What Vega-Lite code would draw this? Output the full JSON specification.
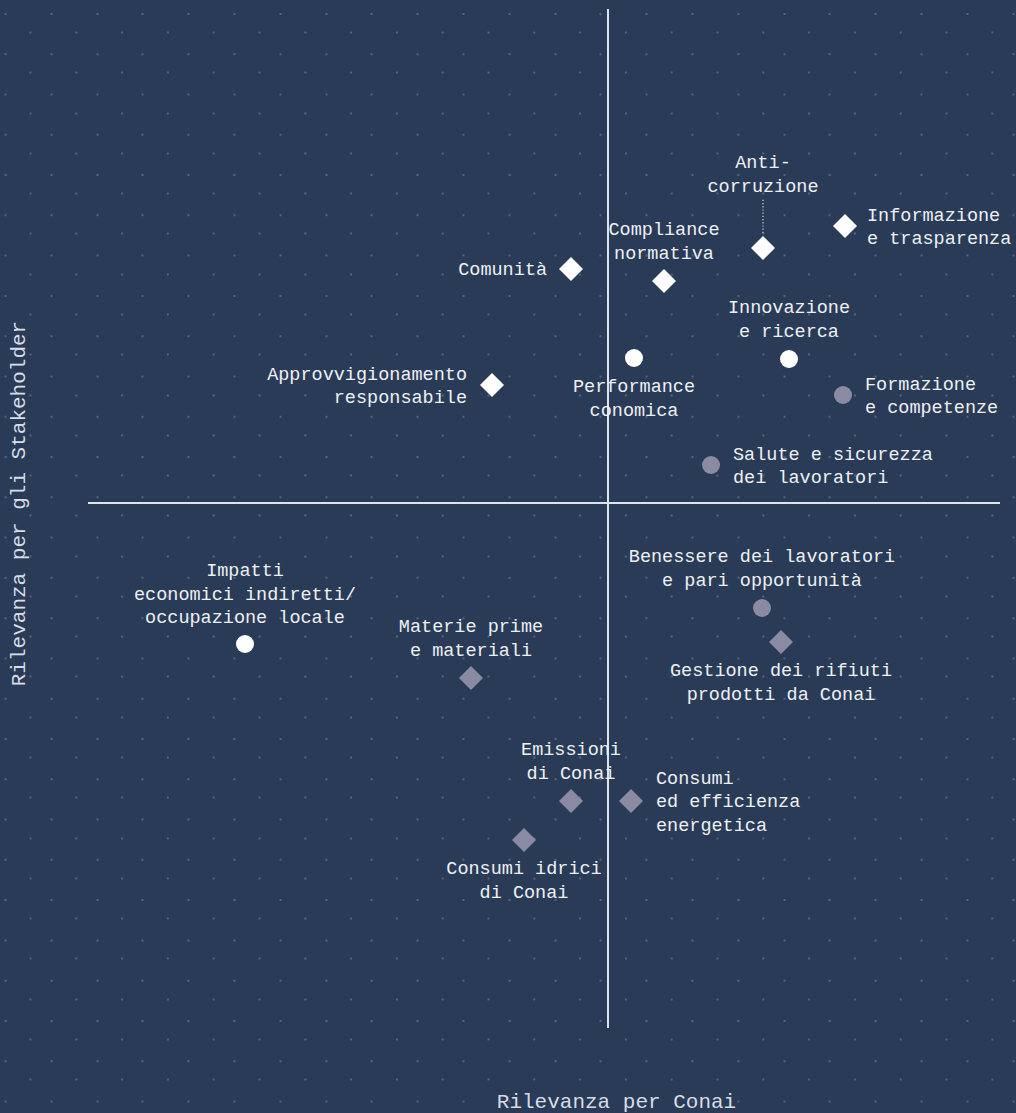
{
  "$schema": "https://vega.github.io/schema/vega-lite/v6.json",
  "width": 1016,
  "height": 1113,
  "autosize": {"type": "none"},
  "padding": 0,
  "background": "#2a3b58",
  "config": {
    "view": {"stroke": null},
    "text": {"font": "Liberation Mono", "fontSize": 18.5, "color": "#eef0f3", "lineHeight": 23.5, "baseline": "middle"}
  },
  "data": {
    "values": [
      {"label": ["Comunità"], "x": -0.37, "y": 2.34, "kind": "diamond", "tone": "chiaro", "side": "left"},
      {"label": ["Compliance", "normativa"], "x": 0.56, "y": 2.22, "kind": "diamond", "tone": "chiaro", "side": "above"},
      {"label": ["Anti-", "corruzione"], "x": 1.55, "y": 2.55, "kind": "diamond", "tone": "chiaro", "side": "leader"},
      {"label": ["Informazione", "e trasparenza"], "x": 2.37, "y": 2.77, "kind": "diamond", "tone": "chiaro", "side": "right"},
      {"label": ["Approvvigionamento", "responsabile"], "x": -1.16, "y": 1.18, "kind": "diamond", "tone": "chiaro", "side": "left"},
      {"label": ["Performance", "conomica"], "x": 0.26, "y": 1.45, "kind": "circle", "tone": "chiaro", "side": "below"},
      {"label": ["Innovazione", "e ricerca"], "x": 1.81, "y": 1.44, "kind": "circle", "tone": "chiaro", "side": "above"},
      {"label": ["Impatti", "economici indiretti/", "occupazione locale"], "x": -3.63, "y": -1.41, "kind": "circle", "tone": "chiaro", "side": "above"},
      {"label": ["Formazione", "e competenze"], "x": 2.35, "y": 1.08, "kind": "circle", "tone": "grigio", "side": "right"},
      {"label": ["Salute e sicurezza", "dei lavoratori"], "x": 1.03, "y": 0.38, "kind": "circle", "tone": "grigio", "side": "right"},
      {"label": ["Benessere dei lavoratori", "e pari opportunità"], "x": 1.54, "y": -1.05, "kind": "circle", "tone": "grigio", "side": "above"},
      {"label": ["Gestione dei rifiuti", "prodotti da Conai"], "x": 1.73, "y": -1.39, "kind": "diamond", "tone": "grigio", "side": "below"},
      {"label": ["Materie prime", "e materiali"], "x": -1.37, "y": -1.75, "kind": "diamond", "tone": "grigio", "side": "above"},
      {"label": ["Emissioni", "di Conai"], "x": -0.37, "y": -2.98, "kind": "diamond", "tone": "grigio", "side": "above"},
      {"label": ["Consumi", "ed efficienza", "energetica"], "x": 0.23, "y": -2.98, "kind": "diamond", "tone": "grigio", "side": "right"},
      {"label": ["Consumi idrici", "di Conai"], "x": -0.84, "y": -3.37, "kind": "diamond", "tone": "grigio", "side": "below"}
    ]
  },
  "resolve": {"scale": {"x": "independent"}, "axis": {"x": "independent"}},
  "layer": [
    {
      "mark": {"type": "rule", "color": "#dfe3ea", "strokeWidth": 1.5},
      "encoding": {
        "x": {"datum": -5.20, "type": "quantitative", "scale": {"domain": [-6.08, 4.08], "nice": false, "zero": false},
          "axis": {"orient": "top", "title": null, "labels": false, "ticks": false, "domain": false, "grid": true,
            "values": [-6.030, -5.572, -5.114, -4.656, -4.198, -3.740, -3.282, -2.824, -2.366, -1.908, -1.450, -0.992, -0.534, -0.076, 0.382, 0.840, 1.298, 1.756, 2.214, 2.672, 3.130, 3.588, 4.046],
            "gridColor": "#6a7391", "gridOpacity": 0.7, "gridWidth": 2, "gridDash": [2, 38.28], "gridDashOffset": 29.28}},
        "x2": {"datum": 3.92},
        "y": {"datum": 0, "type": "quantitative", "scale": {"domain": [-6.10, 5.03], "nice": false, "zero": false}}
      }
    },
    {
      "mark": {"type": "rule", "color": "#dfe3ea", "strokeWidth": 1.5},
      "encoding": {
        "x": {"datum": 0, "type": "quantitative", "scale": {"domain": [-6.08, 4.08], "nice": false, "zero": false}, "axis": null},
        "y": {"datum": 4.94, "type": "quantitative", "scale": {"domain": [-6.10, 5.03], "nice": false, "zero": false}},
        "y2": {"datum": -5.25}
      }
    },
    {
      "transform": [{"filter": "datum.side === 'leader'"}],
      "mark": {"type": "rule", "color": "#d0d4dc", "strokeWidth": 1.2, "strokeDash": [1.2, 2], "yOffset": -15, "y2Offset": -50},
      "encoding": {
        "x": {"field": "x", "type": "quantitative", "scale": {"domain": [-6.08, 4.08], "nice": false, "zero": false}, "axis": null},
        "y": {"field": "y", "type": "quantitative", "scale": {"domain": [-6.10, 5.03], "nice": false, "zero": false}},
        "y2": {"field": "y"}
      }
    },
    {
      "mark": {"type": "point", "filled": true, "opacity": 1, "strokeWidth": 0},
      "encoding": {
        "x": {"field": "x", "type": "quantitative", "scale": {"domain": [-6.08, 4.08], "nice": false, "zero": false},
          "axis": {"orient": "bottom", "title": "Rilevanza per Conai", "labels": false, "ticks": false, "domain": false, "grid": false,
            "titleX": 616, "titleY": -12, "titleAlign": "center", "titleBaseline": "middle",
            "titleFont": "Liberation Mono", "titleFontSize": 21, "titleFontWeight": "normal", "titleColor": "#d8dce4"}},
        "y": {"field": "y", "type": "quantitative", "scale": {"domain": [-6.10, 5.03], "nice": false, "zero": false},
          "axis": {"orient": "left", "title": "Rilevanza per gli Stakeholder", "labels": false, "ticks": false, "domain": false, "grid": true,
            "values": [4.710, 4.3072, 3.9044, 3.5016, 3.0988, 2.696, 2.2932, 1.8904, 1.4876, 1.0848, 0.682, 0.2792, -0.1236, -0.5264, -0.9292, -1.332, -1.7348, -2.1376, -2.5404, -2.9432, -3.346, -3.7488, -4.1516, -4.5544, -4.9572, -5.36, -5.7628],
            "gridColor": "#6a7391", "gridOpacity": 0.7, "gridWidth": 2, "gridDash": [2, 43.8], "gridDashOffset": 16.8,
            "titleX": 18, "titleY": 503, "titleAngle": 270, "titleAlign": "center", "titleBaseline": "middle",
            "titleFont": "Liberation Mono", "titleFontSize": 21, "titleFontWeight": "normal", "titleColor": "#d8dce4"}},
        "shape": {"field": "kind", "type": "nominal", "scale": {"domain": ["diamond", "circle"], "range": ["diamond", "circle"]}, "legend": null},
        "size": {"field": "kind", "type": "nominal", "scale": {"domain": ["diamond", "circle"], "range": [576, 324]}, "legend": null},
        "color": {"field": "tone", "type": "nominal", "scale": {"domain": ["chiaro", "grigio"], "range": ["#ffffff", "#8a8ba3"]}, "legend": null}
      }
    },
    {
      "transform": [{"filter": "datum.side === 'above' && length(datum.label) === 2"}],
      "mark": {"type": "text", "align": "center", "dy": -52},
      "encoding": {
        "x": {"field": "x", "type": "quantitative", "scale": {"domain": [-6.08, 4.08], "nice": false, "zero": false}, "axis": null},
        "y": {"field": "y", "type": "quantitative", "scale": {"domain": [-6.10, 5.03], "nice": false, "zero": false}},
        "text": {"field": "label"}
      }
    },
    {
      "transform": [{"filter": "datum.side === 'above' && length(datum.label) === 3"}],
      "mark": {"type": "text", "align": "center", "dy": -74},
      "encoding": {
        "x": {"field": "x", "type": "quantitative", "scale": {"domain": [-6.08, 4.08], "nice": false, "zero": false}, "axis": null},
        "y": {"field": "y", "type": "quantitative", "scale": {"domain": [-6.10, 5.03], "nice": false, "zero": false}},
        "text": {"field": "label"}
      }
    },
    {
      "transform": [{"filter": "datum.side === 'leader'"}],
      "mark": {"type": "text", "align": "center", "dy": -86},
      "encoding": {
        "x": {"field": "x", "type": "quantitative", "scale": {"domain": [-6.08, 4.08], "nice": false, "zero": false}, "axis": null},
        "y": {"field": "y", "type": "quantitative", "scale": {"domain": [-6.10, 5.03], "nice": false, "zero": false}},
        "text": {"field": "label"}
      }
    },
    {
      "transform": [{"filter": "datum.side === 'below'"}],
      "mark": {"type": "text", "align": "center", "dy": 28},
      "encoding": {
        "x": {"field": "x", "type": "quantitative", "scale": {"domain": [-6.08, 4.08], "nice": false, "zero": false}, "axis": null},
        "y": {"field": "y", "type": "quantitative", "scale": {"domain": [-6.10, 5.03], "nice": false, "zero": false}},
        "text": {"field": "label"}
      }
    },
    {
      "transform": [{"filter": "datum.side === 'left' && length(datum.label) === 1"}],
      "mark": {"type": "text", "align": "right", "dx": -24},
      "encoding": {
        "x": {"field": "x", "type": "quantitative", "scale": {"domain": [-6.08, 4.08], "nice": false, "zero": false}, "axis": null},
        "y": {"field": "y", "type": "quantitative", "scale": {"domain": [-6.10, 5.03], "nice": false, "zero": false}},
        "text": {"field": "label"}
      }
    },
    {
      "transform": [{"filter": "datum.side === 'left' && length(datum.label) === 2"}],
      "mark": {"type": "text", "align": "right", "dx": -25, "dy": -11.5},
      "encoding": {
        "x": {"field": "x", "type": "quantitative", "scale": {"domain": [-6.08, 4.08], "nice": false, "zero": false}, "axis": null},
        "y": {"field": "y", "type": "quantitative", "scale": {"domain": [-6.10, 5.03], "nice": false, "zero": false}},
        "text": {"field": "label"}
      }
    },
    {
      "transform": [{"filter": "datum.side === 'right' && length(datum.label) === 2"}],
      "mark": {"type": "text", "align": "left", "dx": 22, "dy": -11.5},
      "encoding": {
        "x": {"field": "x", "type": "quantitative", "scale": {"domain": [-6.08, 4.08], "nice": false, "zero": false}, "axis": null},
        "y": {"field": "y", "type": "quantitative", "scale": {"domain": [-6.10, 5.03], "nice": false, "zero": false}},
        "text": {"field": "label"}
      }
    },
    {
      "transform": [{"filter": "datum.side === 'right' && length(datum.label) === 3"}],
      "mark": {"type": "text", "align": "left", "dx": 25, "dy": -23.5},
      "encoding": {
        "x": {"field": "x", "type": "quantitative", "scale": {"domain": [-6.08, 4.08], "nice": false, "zero": false}, "axis": null},
        "y": {"field": "y", "type": "quantitative", "scale": {"domain": [-6.10, 5.03], "nice": false, "zero": false}},
        "text": {"field": "label"}
      }
    }
  ]
}
